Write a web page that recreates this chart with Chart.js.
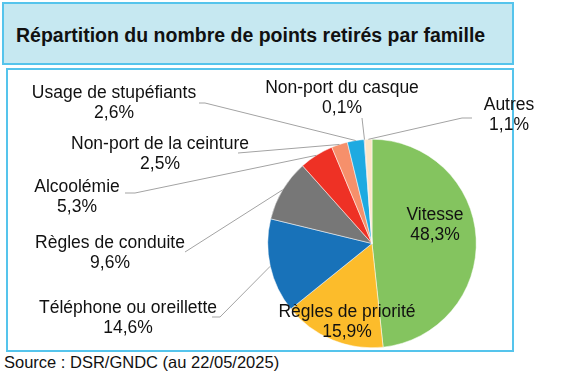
<!DOCTYPE html>
<html>
<head>
<meta charset="utf-8">
<script src="https://cdn.jsdelivr.net/npm/chart.js@4"></script>
<style>
  html, body { margin: 0; padding: 0; background: #fff; }
  body { width: 564px; height: 376px; position: relative; overflow: hidden; font-family: "Liberation Sans", Arial, sans-serif; }
  #titleBox {
    position: absolute; left: 2px; top: 2px; width: 508px; height: 59px;
    background: #c6e8f1; border: 2px solid #55c4ec;
  }
  #titleBox span {
    position: absolute; left: 12px; top: 20px;
    font-weight: bold; font-size: 19.5px; color: #111;
  }
  #chartBox {
    position: absolute; left: 6px; top: 68px; width: 504px; height: 280px;
    border: 2px solid #55c4ec;
  }
  #source { position: absolute; left: 4px; top: 353px; font-size: 16.5px; color: #111; }
  canvas { position: absolute; left: 0; top: 0; }
</style>
</head>
<body>
<div id="titleBox"><span>Répartition du nombre de points retirés par famille</span></div>
<div id="chartBox"></div>
<div id="source">Source : DSR/GNDC (au 22/05/2025)</div>
<canvas id="chart" width="564" height="376"></canvas>
<script>
const categories = ['Vitesse', 'Règles de priorité', 'Téléphone ou oreillette', 'Règles de conduite',
  'Alcoolémie', 'Non-port de la ceinture', 'Usage de stupéfiants', 'Non-port du casque', 'Autres'];
const shares = [48.3, 15.9, 14.6, 9.6, 5.3, 2.5, 2.6, 0.1, 1.1];
const colors = ['#84c45f', '#fcbc2b', '#1872b9', '#777777', '#ee3125', '#f6906b', '#1eaae1', '#2b4f8a', '#fde5c6'];

// label placement: text centre of first line, leader anchor, elbow (null = no leader)
const labelLayout = [
  { tx: 435, ty: 215, line: null },
  { tx: 347, ty: 312, line: null },
  { tx: 128, ty: 308, line: [212, 317, 220, 317] },
  { tx: 110, ty: 243, line: [185, 252, 185, 252] },
  { tx: 77, ty: 187, line: [125, 193, 135, 193] },
  { tx: 160, ty: 144, line: [238, 153, 238, 153] },
  { tx: 114, ty: 93, line: [199, 103, 205, 103] },
  { tx: 342, ty: 88, line: [362, 118, 362, 118] },
  { tx: 509, ty: 105, line: [472, 118, 462, 118] }
];

const fmt = v => v.toFixed(1).replace('.', ',') + '%';

const pieLabels = {
  id: 'pieLabels',
  afterDatasetsDraw(chart) {
    const ctx = chart.ctx;
    const arcs = chart.getDatasetMeta(0).data;
    ctx.save();
    arcs.forEach((arc, i) => {
      const lay = labelLayout[i];
      if (lay.line) {
        const mid = (arc.startAngle + arc.endAngle) / 2;
        const px = arc.x + Math.cos(mid) * arc.outerRadius;
        const py = arc.y + Math.sin(mid) * arc.outerRadius;
        ctx.strokeStyle = '#a3a3a3';
        ctx.lineWidth = 1;
        ctx.beginPath();
        ctx.moveTo(lay.line[0], lay.line[1]);
        ctx.lineTo(lay.line[2], lay.line[3]);
        ctx.lineTo(px, py);
        ctx.stroke();
      }
      ctx.fillStyle = '#111';
      ctx.font = '17.5px "Liberation Sans", Arial, sans-serif';
      ctx.textAlign = 'center';
      ctx.textBaseline = 'middle';
      ctx.fillText(categories[i], lay.tx, lay.ty);
      ctx.fillText(fmt(shares[i]), lay.tx, lay.ty + 20);
    });
    ctx.restore();
  }
};

new Chart(document.getElementById('chart'), {
  type: 'pie',
  data: {
    labels: categories,
    datasets: [{
      data: shares,
      backgroundColor: colors,
      borderColor: '#ffffff',
      borderWidth: 0.5
    }]
  },
  options: {
    responsive: false,
    animation: false,
    layout: { padding: { left: 267, right: 87, top: 139, bottom: 28 } },
    plugins: { legend: { display: false }, tooltip: { enabled: false } }
  },
  plugins: [pieLabels]
});
</script>
</body>
</html>
